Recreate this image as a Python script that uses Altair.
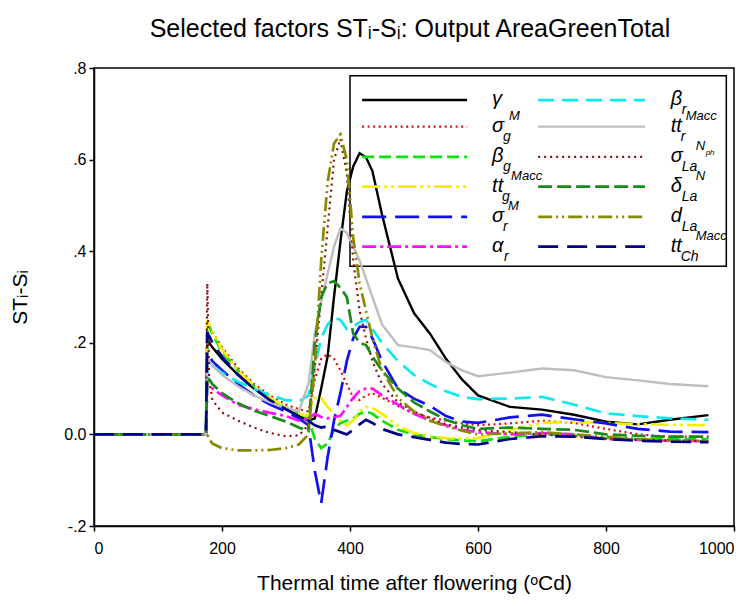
import altair as alt
import pandas as pd

# ---------------- data ----------------
T = [0, 175, 177, 180, 185, 200, 225, 250, 275, 300, 320, 335, 345, 355, 365, 375,
     385, 395, 405, 415, 425, 435, 450, 475, 500, 525, 550, 575, 600, 650, 700, 750,
     800, 850, 900, 960]

gamma = [0, 0, 0.21, 0.2, 0.19, 0.165, 0.13, 0.1, 0.075, 0.055, 0.04, 0.03,
         0.035, 0.1, 0.17, 0.3, 0.42, 0.53, 0.585, 0.614, 0.605, 0.575,
         0.48, 0.34, 0.265, 0.22, 0.165, 0.12, 0.085,
         0.06, 0.054, 0.043, 0.028, 0.022, 0.032, 0.042]
sigma_g = [0, 0, 0.24, 0.235, 0.225, 0.19, 0.145, 0.11, 0.085, 0.065, 0.055, 0.05,
           0.12, 0.165, 0.175, 0.165, 0.14, 0.11, 0.08, 0.075, 0.085, 0.09,
           0.08, 0.062, 0.045, 0.037, 0.03, 0.024, 0.02,
           0.024, 0.03, 0.025, 0.012, 0.0, -0.005, -0.005]
beta_g = [0, 0, 0.24, 0.235, 0.22, 0.18, 0.14, 0.105, 0.08, 0.058, 0.045, 0.035,
          -0.01, -0.03, -0.02, 0.01, 0.025, 0.03, 0.035, 0.045, 0.05, 0.045,
          0.03, 0.01, 0.0, -0.006, -0.01, -0.013, -0.015,
          -0.005, 0.0, -0.002, -0.008, -0.01, -0.01, -0.01]
tt_g = [0, 0, 0.25, 0.24, 0.225, 0.185, 0.14, 0.105, 0.08, 0.06, 0.045, 0.04,
        0.08, 0.08, 0.06, 0.045, 0.03, 0.02, 0.03, 0.05, 0.06, 0.058,
        0.045, 0.018, 0.003, -0.004, -0.008, -0.009, -0.008,
        0.01, 0.025, 0.027, 0.025, 0.022, 0.021, 0.02]
sigma_r = [0, 0, 0.175, 0.17, 0.16, 0.14, 0.11, 0.085, 0.065, 0.05, 0.035, 0.02,
           -0.08, -0.15, -0.05, 0.03, 0.09, 0.16, 0.21, 0.235, 0.235, 0.21,
           0.16, 0.1, 0.078, 0.062, 0.04, 0.028, 0.025,
           0.037, 0.043, 0.033, 0.024, 0.012, 0.006, 0.005]
alpha_r = [0, 0, 0.11, 0.108, 0.1, 0.085, 0.065, 0.055, 0.047, 0.04, 0.03, 0.035,
           0.045, 0.038, 0.035, 0.038, 0.04, 0.06, 0.08, 0.095, 0.1, 0.1,
           0.085, 0.065, 0.045, 0.03, 0.02, 0.01, 0.005,
           0.0, 0.003, 0.0, -0.01, -0.012, -0.014, -0.015]
beta_r = [0, 0, 0.16, 0.157, 0.15, 0.135, 0.115, 0.1, 0.085, 0.075, 0.072, 0.085,
          0.15, 0.21, 0.24, 0.255, 0.25, 0.23, 0.235, 0.245, 0.25, 0.23,
          0.2, 0.16, 0.13, 0.11, 0.094, 0.082, 0.077,
          0.078, 0.082, 0.065, 0.046, 0.04, 0.035, 0.032]
tt_r = [0, 0, 0.165, 0.16, 0.15, 0.13, 0.105, 0.085, 0.07, 0.058, 0.05, 0.11,
        0.22, 0.29, 0.35, 0.41, 0.45, 0.44, 0.41, 0.38, 0.34, 0.3,
        0.24, 0.195, 0.19, 0.184, 0.158, 0.14, 0.127,
        0.135, 0.144, 0.14, 0.125, 0.118, 0.11, 0.105]
sigma_La = [0, 0, 0.33, 0.12, 0.075, 0.048, 0.03, 0.015, 0.003, -0.004, -0.002, 0.02,
            0.15, 0.3, 0.45, 0.6, 0.645, 0.57, 0.38, 0.27, 0.21, 0.16,
            0.11, 0.07, 0.05, 0.035, 0.022, 0.015, 0.01,
            0.005, 0.0, -0.005, -0.01, -0.012, -0.013, -0.015]
delta_La = [0, 0, 0.125, 0.12, 0.11, 0.09, 0.068, 0.052, 0.04, 0.028, 0.015, 0.008,
            0.2, 0.3, 0.33, 0.335, 0.32, 0.3, 0.22, 0.2, 0.195, 0.17,
            0.14, 0.1, 0.07, 0.05, 0.032, 0.02, 0.012,
            0.015, 0.012, 0.01, 0.0, -0.003, -0.005, -0.005]
d_La = [0, 0, 0.0, -0.01, -0.02, -0.03, -0.035, -0.035, -0.034, -0.03, -0.022, 0.0,
        0.15, 0.38, 0.55, 0.635, 0.655, 0.6, 0.43, 0.33, 0.27, 0.21,
        0.14, 0.08, 0.05, 0.03, 0.018, 0.008, 0.0,
        0.002, 0.005, 0.0, -0.005, -0.01, -0.013, -0.015]
tt_Ch = [0, 0, 0.22, 0.215, 0.2, 0.17, 0.13, 0.1, 0.075, 0.055, 0.04, 0.03,
         0.02, 0.015, 0.018, 0.01, 0.005, 0.0, 0.01, 0.022, 0.032, 0.025,
         0.012, 0.0, -0.006, -0.012, -0.018, -0.021, -0.022,
         -0.01, -0.004, -0.005, -0.01, -0.014, -0.016, -0.017]

SERIES = ["gamma", "sigma_g", "beta_g", "tt_g", "sigma_r", "alpha_r",
          "beta_r", "tt_r", "sigma_La", "delta_La", "d_La", "tt_Ch"]
VALUES = [gamma, sigma_g, beta_g, tt_g, sigma_r, alpha_r,
          beta_r, tt_r, sigma_La, delta_La, d_La, tt_Ch]

COLORS = ["#000000", "#E01010", "#10E010", "#F2F000", "#1010F0", "#FF10FF",
          "#10E8F0", "#BEBEBE", "#8B1010", "#1A8A1A", "#8A8A00", "#000088"]
DASHES = [None, [2, 3.5], [12, 5], [18, 4, 3, 4, 3, 4], [24, 9], [14, 4, 3, 4],
          [16, 8], None, [2, 4], [14, 5], [14, 4, 2, 4, 2, 4], [20, 9]]
WIDTHS = [2.4, 2.2, 2.7, 2.7, 2.7, 2.7, 2.7, 2.4, 2.2, 2.7, 2.7, 2.7]

# legend text pieces
LEG_MAIN = ["γ", "σ", "β", "tt", "σ", "α", "β", "tt", "σ", "δ", "d", "tt"]
LEG_SUB = ["", "g", "g", "g", "r", "r", "r", "r", "La", "La", "La", "Ch"]
LEG_SUP = ["", "M", "", "Macc", "M", "", "", "Macc", "N", "N", "", "Macc"]
LEG_SUB_OFF = [0, 11, 11, 10, 11, 12, 11, 10, 11, 11, 11, 10]      # px
LEG_SUP_OFF = [0, 17, 0, 19, 16, 0, 0, 15, 25, 25, 0, 25]          # px

# legend geometry in data units
LEG_ROW_V = [0.730, 0.672, 0.606, 0.541, 0.475, 0.410]
LEG_LINE_T = [(419, 583), (694, 861)]
LEG_LABEL_T = [622, 901]
LEG_BOX = (400, 988, 0.783, 0.367)
UNITS_PER_PX = 1000 / 640

# ---------------- build tables ----------------
rows = []
for name, vals in zip(SERIES, VALUES):
    for t, v in zip(T, vals):
        rows.append({"series": name, "t": t, "v": v})
df = pd.DataFrame(rows)

leg_lines, leg_main, leg_sub, leg_sup = [], [], [], []
for i, name in enumerate(SERIES):
    col, row = divmod(i, 6)
    v = LEG_ROW_V[row]
    t0, t1 = LEG_LINE_T[col]
    leg_lines.append({"series": name, "t": t0, "t2": t1, "v": v})
    lt = LEG_LABEL_T[col]
    leg_main.append({"t": lt, "v": v, "txt": LEG_MAIN[i]})
    if LEG_SUB[i]:
        leg_sub.append({"t": lt + LEG_SUB_OFF[i] * UNITS_PER_PX, "v": v, "txt": LEG_SUB[i]})
    if LEG_SUP[i]:
        leg_sup.append({"t": lt + LEG_SUP_OFF[i] * UNITS_PER_PX, "v": v, "txt": LEG_SUP[i]})
leg_lines = pd.DataFrame(leg_lines)
leg_main = pd.DataFrame(leg_main)
leg_sub = pd.DataFrame(leg_sub)
leg_sup = pd.DataFrame(leg_sup)
leg_ph = pd.DataFrame([{"t": LEG_LABEL_T[1] + 35 * UNITS_PER_PX, "v": LEG_ROW_V[2], "txt": "ph"}])
box = pd.DataFrame([{"t": LEG_BOX[0], "t2": LEG_BOX[1], "v": LEG_BOX[2], "v2": LEG_BOX[3]}])

FONT = "Liberation Sans"
xs = alt.Scale(domain=[0, 1000], nice=False, zero=False)
ys = alt.Scale(domain=[-0.2, 0.8], nice=False, zero=False)
xaxis = alt.Axis(values=[0, 200, 400, 600, 800, 1000], format="d",
                 title="Thermal time after flowering (ᵒCd)", grid=False,
                 labelPadding=9, titlePadding=16)
yaxis = alt.Axis(values=[-0.2, 0, 0.2, 0.4, 0.6, 0.8], grid=False,
                 labelExpr="datum.value == 0 ? '0.0' : (datum.value < 0 ? '-' : '') + replace(format(abs(datum.value), '.1f'), '0.', '.')",
                 title="STᵢ-Sᵢ", labelPadding=3, titlePadding=33)

X = alt.X("t:Q", scale=xs, axis=xaxis)
Y = alt.Y("v:Q", scale=ys, axis=yaxis)

layers = []
layers.append(alt.Chart(box).mark_rect(filled=False, stroke="black", strokeWidth=1.5)
              .encode(x=X, x2="t2:Q", y=Y, y2="v2:Q"))

for i, name in enumerate(SERIES):
    kw = dict(color=COLORS[i], strokeWidth=WIDTHS[i])
    if DASHES[i]:
        kw["strokeDash"] = DASHES[i]
    layers.append(alt.Chart(df[df.series == name]).mark_line(clip=True, **kw).encode(x=X, y=Y))
    layers.append(alt.Chart(leg_lines[leg_lines.series == name]).mark_rule(**kw)
                  .encode(x=X, x2="t2:Q", y=Y))

txt = dict(font=FONT, fontStyle="italic", align="left", color="black")
layers.append(alt.Chart(leg_main).mark_text(fontSize=20, baseline="middle", dy=-1, **txt)
              .encode(x=X, y=Y, text="txt:N"))
layers.append(alt.Chart(leg_sub).mark_text(fontSize=14, baseline="middle", dy=10, **txt)
              .encode(x=X, y=Y, text="txt:N"))
layers.append(alt.Chart(leg_sup).mark_text(fontSize=13, baseline="middle", dy=-11, **txt)
              .encode(x=X, y=Y, text="txt:N"))
layers.append(alt.Chart(leg_ph).mark_text(fontSize=8, baseline="middle", dy=-4, **txt)
              .encode(x=X, y=Y, text="txt:N"))

chart = alt.layer(*layers).properties(
    width=640, height=458,
    padding={"left": 94, "top": 68, "right": 20, "bottom": 81},
    autosize=alt.AutoSizeParams(type="none"),
    background="white",
    title=alt.TitleParams("Selected factors STᵢ-Sᵢ: Output AreaGreenTotal",
                          font=FONT, fontSize=25, fontWeight="normal",
                          anchor="middle", offset=18, dx=-4, color="black"),
).configure_view(stroke="black", strokeWidth=1.5).configure_axis(
    labelFont=FONT, labelFontSize=16, labelColor="black",
    titleFont=FONT, titleFontSize=21, titleFontWeight="normal", titleColor="black",
    domainColor="black", domainWidth=1.5, tickColor="black", tickWidth=1.5, tickSize=5,
)

chart.save("out.html", embed_options={"renderer": "svg", "actions": False})
